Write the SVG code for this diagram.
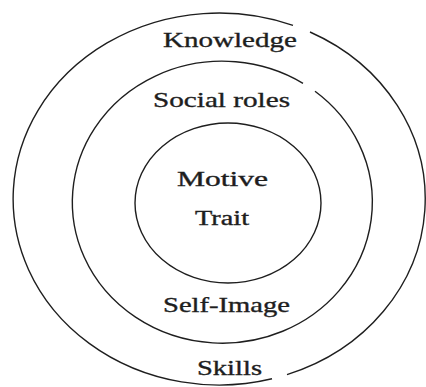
<svg xmlns="http://www.w3.org/2000/svg" width="426" height="387" viewBox="0 0 426 387">
<style>
.ring{fill:none;stroke:#1e1e1e;stroke-width:1.4}
.lbl{font-family:"Liberation Serif","Times New Roman",serif;fill:#1e1e1e;stroke:#1e1e1e;stroke-width:0.35}
</style>
<rect width="426" height="387" fill="#ffffff"/>
<g id="outer">
<path class="ring" d="M310,32 A206,186 0 0 1 287,374.6 M272,378.8 A206,186 0 1 1 293,25.4"/>
<text class="lbl" x="163" y="47" font-size="22" textLength="134" lengthAdjust="spacingAndGlyphs">Knowledge</text>
<text class="lbl" x="197" y="375" font-size="21" textLength="65" lengthAdjust="spacingAndGlyphs">Skills</text>
</g>
<g id="middle">
<path class="ring" d="M315,91.3 A150,141 0 1 1 303,83.3"/>
<text class="lbl" x="153" y="107" font-size="21" textLength="137" lengthAdjust="spacingAndGlyphs">Social roles</text>
<text class="lbl" x="163" y="312" font-size="21" textLength="127" lengthAdjust="spacingAndGlyphs">Self-Image</text>
</g>
<g id="inner">
<ellipse class="ring" cx="228" cy="203" rx="93" ry="80"/>
<text class="lbl" x="177" y="186" font-size="20" textLength="91" lengthAdjust="spacingAndGlyphs">Motive</text>
<text class="lbl" x="195" y="225" font-size="20" textLength="54" lengthAdjust="spacingAndGlyphs">Trait</text>
</g>
<g id="connectors"/>
</svg>
